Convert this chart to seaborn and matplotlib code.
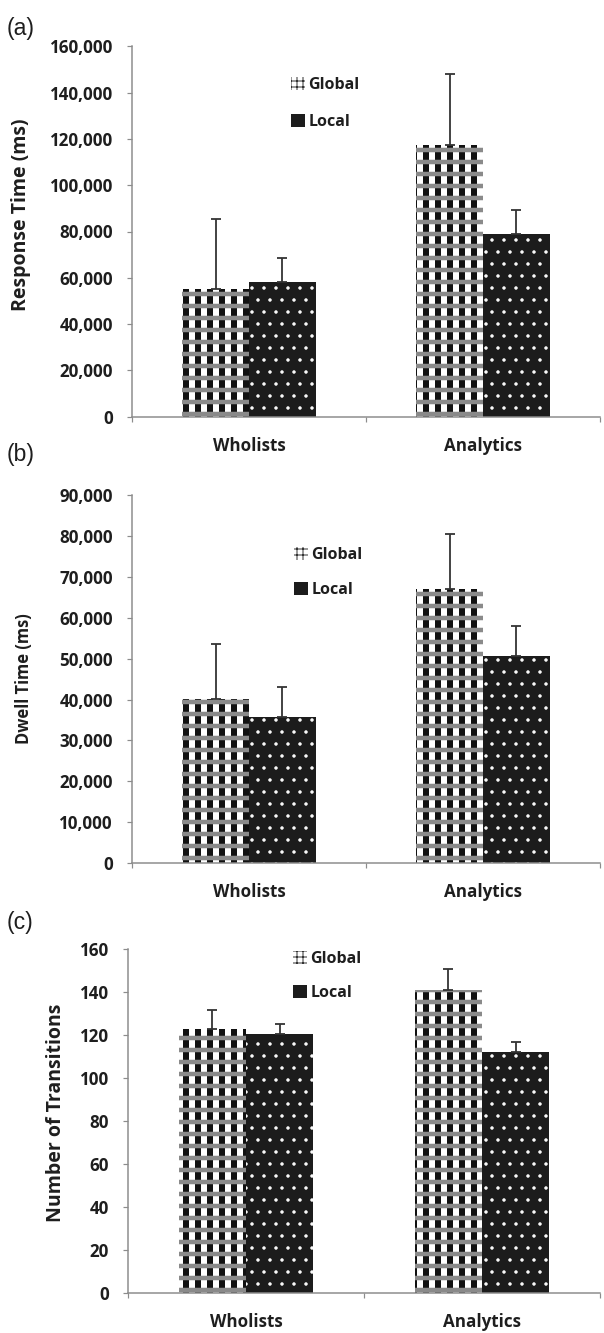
# grouped bar panels (a)-(c): Global vs Local, Wholists vs Analytics
import pandas as pd
import seaborn as sns
import matplotlib.pyplot as plt
from matplotlib.patches import Patch, Rectangle
from matplotlib.ticker import StrMethodFormatter

categories = ["Wholists", "Analytics"]
conditions = ["Global", "Local"]

response_global = [55100, 117300]
response_local = [58300, 79100]
response_global_err = [30500, 30700]
response_local_err = [10300, 10400]

dwell_global = [40100, 67100]
dwell_local = [35800, 50700]
dwell_global_err = [13400, 13400]
dwell_local_err = [7300, 7300]

trans_global = [122.5, 140.8]
trans_local = [120.5, 111.9]
trans_global_err = [9.1, 9.7]
trans_local_err = [4.6, 4.7]

W, H = 604, 1333
DPI = 72

panels = [
    dict(tag="(a)", ylabel="Response Time (ms)", g=response_global, l=response_local,
         ge=response_global_err, le=response_local_err, ymax=160000, step=20000,
         rect=(132, 46.3, 600, 416.7), leg=(291, 77), spacing=1.3, ylab=(21, 215), ysize=19.5,
         tagpos=(7, 28)),
    dict(tag="(b)", ylabel="Dwell Time (ms)", g=dwell_global, l=dwell_local,
         ge=dwell_global_err, le=dwell_local_err, ymax=90000, step=10000,
         rect=(132, 494.9, 600, 863.3), leg=(294, 547), spacing=1.2, ylab=(24.5, 679), ysize=16.5,
         tagpos=(7, 454)),
    dict(tag="(c)", ylabel="Number of Transitions", g=trans_global, l=trans_local,
         ge=trans_global_err, le=trans_local_err, ymax=160, step=20,
         rect=(128, 948.7, 600, 1292.7), leg=(293, 951), spacing=1.1, ylab=(56, 1113), ysize=19.5,
         tagpos=(7, 922)),
]

sns.set_style("ticks")
plt.rcParams['font.family'] = ['Open Sans', 'DejaVu Sans']
plt.rcParams['font.weight'] = 'bold'

GRID = '#8c8c8c'
TEXT = '#1e1e1e'


def hatch_lw(patch, lw):
    if hasattr(patch, 'set_hatch_linewidth'):
        patch.set_hatch_linewidth(lw)


def style_global(p):
    p.set_facecolor('white')
    p.set_edgecolor('#111111')
    p.set_linewidth(0)
    p.set_hatch('|')
    hatch_lw(p, 6)


def band(p, ax):
    r = Rectangle(p.get_xy(), p.get_width(), p.get_height(), facecolor='none',
                  edgecolor='#8a8a8a', linewidth=0, hatch='-')
    hatch_lw(r, 4.5)
    ax.add_patch(r)


def style_local(p):
    p.set_facecolor('#1c1c1c')
    p.set_edgecolor('white')
    p.set_linewidth(0)
    p.set_hatch('.')
    hatch_lw(p, 1)


fig = plt.figure(figsize=(W / DPI, H / DPI), dpi=DPI)

for pn in panels:
    x0, ytop, x1, ybot = pn['rect']
    ax = fig.add_axes([x0 / W, 1 - ybot / H, (x1 - x0) / W, (ybot - ytop) / H])

    df = pd.DataFrame({
        'group': categories * 2,
        'condition': [conditions[0]] * 2 + [conditions[1]] * 2,
        'value': pn['g'] + pn['l'],
    })
    sns.barplot(data=df, x='group', y='value', hue='condition', order=categories,
                hue_order=conditions, width=0.57, errorbar=None, legend=False,
                saturation=1, ax=ax)

    for bars, errs, style in [(ax.containers[0], pn['ge'], style_global),
                              (ax.containers[1], pn['le'], style_local)]:
        xs, ys = [], []
        for b in bars:
            style(b)
            if style is style_global:
                band(b, ax)
            xs.append(b.get_x() + b.get_width() / 2)
            ys.append(b.get_height())
        ax.errorbar(xs, ys, yerr=[[0] * len(errs), errs], fmt='none', ecolor='#333333',
                    elinewidth=1.8, capsize=5, capthick=1.8, zorder=5)

    ax.set_xlim(-0.5, 1.5)
    ax.set_ylim(0, pn['ymax'])
    ax.set_yticks(range(0, pn['ymax'] + 1, pn['step']))
    ax.yaxis.set_major_formatter(StrMethodFormatter('{x:,.0f}'))
    ax.set_xticks([-0.5, 0.5, 1.5], minor=True)
    ax.set_xlabel(None)
    ax.set_ylabel(pn['ylabel'], fontsize=pn['ysize'], fontweight='bold', color=TEXT)
    ax.yaxis.label.set_verticalalignment('center')
    lx, ly = pn['ylab']
    ax.yaxis.set_label_coords((lx - x0) / (x1 - x0), (ybot - ly) / (ybot - ytop))

    for s in ['top', 'right']:
        ax.spines[s].set_visible(False)
    for s in ['left', 'bottom']:
        ax.spines[s].set_color(GRID)
        ax.spines[s].set_linewidth(1.5)

    ax.tick_params(axis='y', length=5, width=1.2, pad=14, color=GRID, labelcolor=TEXT, labelsize=17)
    ax.tick_params(axis='x', which='major', length=0, pad=20, labelcolor=TEXT, labelsize=17)
    ax.tick_params(axis='x', which='minor', length=5, width=1.2, color=GRID)

    # legend swatches: small checker for Global, solid dark for Local
    gl = Patch(facecolor='white', edgecolor='#333333', linewidth=0, hatch='++')
    hatch_lw(gl, 2)
    lc = Patch(facecolor='#1c1c1c', linewidth=0)
    lgx, lgy = pn['leg']
    ax.legend([gl, lc], conditions, loc='upper left',
              bbox_to_anchor=((lgx - x0) / (x1 - x0), (ybot - lgy) / (ybot - ytop)),
              frameon=False, borderpad=0, borderaxespad=0, handlelength=0.875,
              handleheight=0.875, handletextpad=0.2, labelspacing=pn['spacing'],
              prop={'size': 16, 'weight': 'bold'}, labelcolor=TEXT)

    tx, ty = pn['tagpos']
    fig.text(tx / W, 1 - ty / H, pn['tag'], fontsize=23, fontweight='normal',
             family=['Liberation Sans', 'DejaVu Sans'], va='center', ha='left', color=TEXT)

fig.savefig('out.png', dpi=DPI)
